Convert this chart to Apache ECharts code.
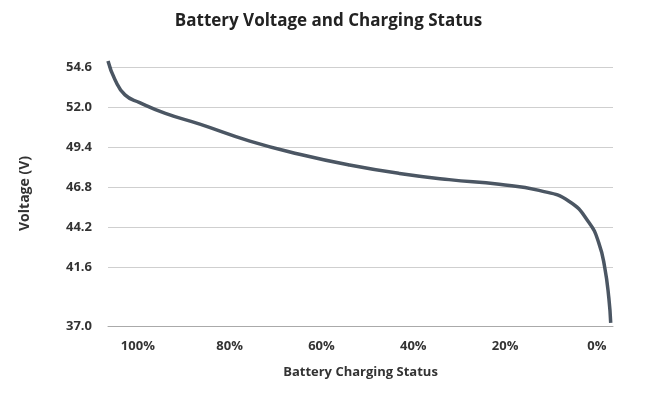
<!DOCTYPE html>
<html><head><meta charset="utf-8">
<script src="https://cdn.jsdelivr.net/npm/echarts@6/dist/echarts.min.js"></script>
<style>html,body{margin:0;padding:0;background:#fff}#c{width:657px;height:404px}</style>
</head><body><div id="c"></div>
<script>
const xPct = [106.5,105,102.8,99.6,94,86.5,75.6,64.8,53.9,43,32.2,21.3,12.6,6.1,1.7,-0.4,-1.7,-2.6,-3];
const volts = [55.0,53.8,52.8,52.3,51.6,50.9,49.8,48.95,48.25,47.7,47.3,47.0,46.6,45.9,44.5,43.2,41.6,39.6,38.0];
const xTicks = [0,20,40,60,80,100];
const yTicks = [37.8,41.6,44.2,46.8,49.4,52.0,54.6];
const yTickText = ['37.0','41.6','44.2','46.8','49.4','52.0','54.6'];
const c = echarts.init(document.getElementById('c'));
const lblStyle = {color:'#333',fontWeight:'bold',fontSize:13,fontFamily:'Open Sans'};
c.setOption({
  animation:false,
  title:{text:'Battery Voltage and Charging Status',left:'center',top:8,textStyle:{fontFamily:'Open Sans',fontWeight:'bold',fontSize:17,color:'#222'}},
  grid:{left:108,right:44,top:61,bottom:78},
  xAxis:{type:'value',inverse:true,min:-3.5,max:106.5,
    name:'Battery Charging Status',nameLocation:'middle',nameGap:40,
    nameTextStyle:{fontFamily:'Open Sans',fontWeight:'bold',fontSize:13,color:'#333'},
    axisLine:{lineStyle:{color:'#aaa'}},axisTick:{show:false},splitLine:{show:false},
    axisLabel:Object.assign({customValues:xTicks,formatter:v=>v+'%',margin:14},lblStyle)},
  yAxis:{type:'value',min:37.8,max:55.0,
    name:'Voltage (V)',nameLocation:'middle',nameGap:76,nameRotate:90,
    nameTextStyle:{fontFamily:'Open Sans',fontWeight:'bold',fontSize:14,color:'#333'},
    axisLine:{show:false},
    axisTick:{show:false,customValues:yTicks},
    splitLine:{show:true,lineStyle:{color:'#cfcfcf'}},
    axisLabel:Object.assign({customValues:yTicks,margin:16,formatter:v=>{const i=yTicks.findIndex(t=>Math.abs(t-v)<1e-6);return i>=0?yTickText[i]:'';}},lblStyle)},
  series:[{type:'line',data:xPct.map((x,i)=>[x,volts[i]]),smooth:true,showSymbol:false,
    lineStyle:{color:'#4b5663',width:3.5}}]
});
</script></body></html>
